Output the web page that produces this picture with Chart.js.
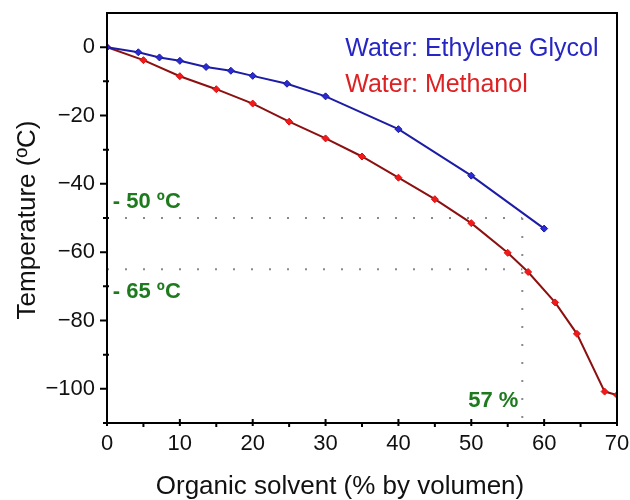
<!DOCTYPE html>
<html>
<head>
<meta charset="utf-8">
<script src="https://cdn.jsdelivr.net/npm/chart.js@4.4.1/dist/chart.umd.min.js"></script>
<style>
  html, body { margin: 0; padding: 0; background: #fff; }
  #wrap { width: 630px; height: 500px; }
</style>
</head>
<body>
<div id="wrap"><canvas id="c" width="630" height="500"></canvas></div>
<script>
// ---- data ----
const egPercent = [0, 4.3, 7.2, 10, 13.6, 17, 20, 24.7, 30, 40, 50, 60];
const egTemp    = [0, -1.5, -3.0, -4.0, -5.8, -6.9, -8.4, -10.7, -14.4, -24.0, -37.6, -53.1];

const meoPercent = [0, 5, 10, 15, 20, 25, 30, 35, 40, 45, 50, 55, 57.8, 61.5, 64.5, 68.3, 70];
const meoTemp    = [0, -3.8, -8.5, -12.3, -16.5, -21.8, -26.7, -32.0, -38.2, -44.5, -51.5, -60.2, -65.8, -74.7, -83.9, -100.8, -101.8];

const seriesNames = ['Water: Ethylene Glycol', 'Water: Methanol'];
const refTemps = [-50, -65];
const refPercent = 57;
const refLabels = ['- 50 ºC', '- 65 ºC', '57 %'];

const xTicks = [0, 10, 20, 30, 40, 50, 60, 70];
const yTicks = [-100, -80, -60, -40, -20, 0];
const xRange = [0, 70];
const yRange = [-110, 10];

const xTitle = 'Organic solvent (% by volumen)';
const yTitle = 'Temperature (ºC)';

// ---- helpers ----
const FONT = '"Liberation Sans", Arial, sans-serif';
const zip = (xs, ys) => xs.map((x, i) => ({ x: x, y: ys[i] }));

const refDatasets = [
  { data: [{ x: xRange[0], y: refTemps[0] }, { x: refPercent, y: refTemps[0] }] },
  { data: [{ x: xRange[0], y: refTemps[1] }, { x: refPercent, y: refTemps[1] }] },
  { data: [{ x: refPercent, y: refTemps[0] }, { x: refPercent, y: yRange[0] }] }
].map(d => Object.assign(d, {
  borderColor: '#8a8a8a', borderWidth: 2, borderDash: [2, 16], pointRadius: 0,
  showLine: true, fill: false, tension: 0
}));

const decorPlugin = {
  id: 'decor',
  afterDraw(chart) {
    const ctx = chart.ctx;
    const ca = chart.chartArea;
    const xs = chart.scales.x, ys = chart.scales.y;
    ctx.save();
    // frame
    ctx.strokeStyle = '#000';
    ctx.lineWidth = 2;
    ctx.strokeRect(ca.left, ca.top, ca.right - ca.left, ca.bottom - ca.top);
    // y ticks
    ctx.lineWidth = 2;
    ctx.beginPath();
    yTicks.forEach(v => {
      const p = ys.getPixelForValue(v);
      ctx.moveTo(ca.left - 7, p); ctx.lineTo(ca.left, p);
      const pm = ys.getPixelForValue(v - 10);
      if (v - 10 >= yRange[0]) { ctx.moveTo(ca.left - 4, pm); ctx.lineTo(ca.left + 2, pm); }
    });
    // x ticks
    xTicks.forEach(v => {
      const p = xs.getPixelForValue(v);
      ctx.moveTo(p, ca.bottom - 4); ctx.lineTo(p, ca.bottom + 3);
      if (v + 5 < xRange[1]) {
        const pm = xs.getPixelForValue(v + 5);
        ctx.moveTo(pm, ca.bottom); ctx.lineTo(pm, ca.bottom + 4);
      }
    });
    ctx.stroke();

    // legend text
    ctx.textAlign = 'left';
    ctx.textBaseline = 'alphabetic';
    ctx.font = '25px ' + FONT;
    const lx = xs.getPixelForValue(32.7);
    ctx.fillStyle = '#2626c4';
    ctx.fillText(seriesNames[0], lx, ys.getPixelForValue(-2.7));
    ctx.fillStyle = '#dc2222';
    ctx.fillText(seriesNames[1], lx, ys.getPixelForValue(-13));

    // reference labels
    ctx.fillStyle = '#1d7a1d';
    ctx.font = 'bold 22px ' + FONT;
    const gx = xs.getPixelForValue(0.8);
    ctx.fillText(refLabels[0], gx, ys.getPixelForValue(refTemps[0]) - 10);
    ctx.fillText(refLabels[1], gx, ys.getPixelForValue(refTemps[1]) + 29);
    ctx.textAlign = 'right';
    ctx.fillText(refLabels[2], xs.getPixelForValue(refPercent) - 4, ys.getPixelForValue(-105.2));

    // axis titles
    ctx.fillStyle = '#111';
    ctx.font = '26px ' + FONT;
    ctx.textAlign = 'center';
    ctx.textBaseline = 'middle';
    ctx.fillText(xTitle, (ca.left + ca.right) / 2 - 22, ca.bottom + 64);
    ctx.translate(28, (ca.top + ca.bottom) / 2 + 2);
    ctx.rotate(-Math.PI / 2);
    ctx.fillText(yTitle, 0, 0);
    ctx.restore();
  }
};

new Chart(document.getElementById('c'), {
  type: 'scatter',
  data: {
    datasets: [
      {
        label: seriesNames[0],
        data: zip(egPercent, egTemp),
        showLine: true, tension: 0,
        borderColor: '#1c1ca6', borderWidth: 2,
        pointStyle: 'rectRot', pointRadius: 3.5,
        pointBackgroundColor: '#2a2ad8', pointBorderColor: '#1a1a90', pointBorderWidth: 1
      },
      {
        label: seriesNames[1],
        data: zip(meoPercent, meoTemp),
        showLine: true, tension: 0,
        borderColor: '#8c1010', borderWidth: 2,
        pointStyle: 'rectRot', pointRadius: 3.5,
        pointBackgroundColor: '#f01a1a', pointBorderColor: '#e01010', pointBorderWidth: 1
      },
      ...refDatasets
    ]
  },
  options: {
    responsive: false,
    animation: false,
    layout: { padding: { left: 0, right: 13, top: 13, bottom: 0 } },
    plugins: { legend: { display: false }, tooltip: { enabled: false } },
    scales: {
      x: {
        type: 'linear', min: xRange[0], max: xRange[1],
        afterBuildTicks: s => { s.ticks = xTicks.map(v => ({ value: v })); },
        afterFit: s => { s.height = 77; s.paddingLeft = 0; s.paddingRight = 0; },
        grid: { display: false, drawTicks: false },
        border: { display: false },
        ticks: { font: { family: FONT, size: 22 }, color: '#111', padding: 8, maxRotation: 0, autoSkip: false }
      },
      y: {
        type: 'linear', min: yRange[0], max: yRange[1],
        afterBuildTicks: s => { s.ticks = yTicks.map(v => ({ value: v })); },
        afterFit: s => { s.width = 107; s.paddingTop = 0; s.paddingBottom = 0; },
        grid: { display: false, drawTicks: false },
        border: { display: false },
        ticks: {
          font: { family: FONT, size: 22 }, color: '#111', padding: 12, autoSkip: false,
          callback: v => String(v).replace('-', '\u2212')
        }
      }
    }
  },
  plugins: [decorPlugin]
});
</script>
</body>
</html>
